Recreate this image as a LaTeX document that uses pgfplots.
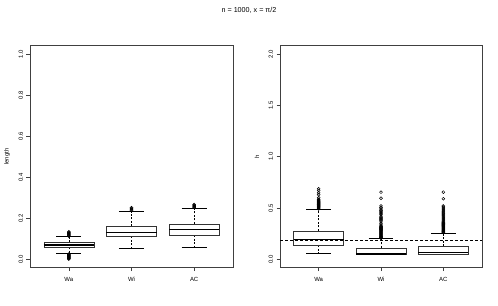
\documentclass[border=0pt]{standalone}
\usepackage{fontspec}
\setmainfont{Liberation Sans}
\usepackage{pgfplots}
\pgfplotsset{compat=1.18}
\usepgfplotslibrary{statistics}
\pgfplotsset{
  rbox/.style={
    scale only axis, width=203bp, height=221.7bp,
    xmin=0.38, xmax=3.62,
    xtick={1,2,3}, xticklabels={Wa,Wi,AC},
    tick align=outside, major tick length=3.5bp,
    tick pos=left,
    axis line style={line width=0.6bp, black!75},
    every tick/.style={black!75, line width=0.5bp},
    ticklabel style={font=\fontsize{6}{7}\selectfont},
    yticklabel style={rotate=90, anchor=south},
    xticklabel shift=3bp,
    every axis y label/.style={at={(axis description cs:0,0.5)}, xshift=-23bp, rotate=90, anchor=center, font=\fontsize{6}{7}\selectfont},
    boxplot/draw direction=y,
    /pgf/number format/.cd, fixed, fixed zerofill, precision=1, assume math mode=true,
  },
  rbp/.style={
    black, line width=0.5bp,
    mark=o, mark size=1.45bp, mark options={line width=0.5bp, solid},
    boxplot/box extend=0.8,
    boxplot/every box/.style={draw=black!80, fill=white, line width=0.55bp},
    boxplot/every median/.style={line width=1.3bp, black},
    boxplot/draw/lower whisker/.code={%
      \draw[dash pattern=on 2bp off 1.5bp, line width=0.5bp] (boxplot box cs:\pgfplotsboxplotvalue{lower quartile},0.5) -- (boxplot box cs:\pgfplotsboxplotvalue{lower whisker},0.5);
      \draw[line width=0.55bp] (boxplot box cs:\pgfplotsboxplotvalue{lower whisker},0.25) -- (boxplot box cs:\pgfplotsboxplotvalue{lower whisker},0.75);
    },
    boxplot/draw/upper whisker/.code={%
      \draw[dash pattern=on 2bp off 1.5bp, line width=0.5bp] (boxplot box cs:\pgfplotsboxplotvalue{upper quartile},0.5) -- (boxplot box cs:\pgfplotsboxplotvalue{upper whisker},0.5);
      \draw[line width=0.55bp] (boxplot box cs:\pgfplotsboxplotvalue{upper whisker},0.25) -- (boxplot box cs:\pgfplotsboxplotvalue{upper whisker},0.75);
    },
  },
}
\begin{document}
\begin{tikzpicture}
\path[use as bounding box] (0bp,0bp) rectangle (498bp,306bp);
\node[font=\fontsize{7.2}{8}\selectfont] at (249bp,296bp) {n = 1000, x = π/2};

\begin{axis}[rbox, at={(30bp,38.5bp)}, anchor=south west,
  ymin=-0.04, ymax=1.04, ytick={0,0.2,0.4,0.6,0.8,1.0}, ylabel={length}]
\addplot[rbp, boxplot prepared={draw position=1, lower whisker=0.028, lower quartile=0.058, median=0.069, upper quartile=0.082, upper whisker=0.110}]
  coordinates {(0,0.001) (0,0.003) (0,0.005) (0,0.007) (0,0.009) (0,0.011) (0,0.013) (0,0.015) (0,0.017) (0,0.019) (0,0.021) (0,0.023) (0,0.025)
  (0,0.113) (0,0.116) (0,0.119) (0,0.122) (0,0.125) (0,0.128) (0,0.131) (0,0.134)};
\addplot[rbp, boxplot prepared={draw position=2, lower whisker=0.053, lower quartile=0.112, median=0.131, upper quartile=0.162, upper whisker=0.232}]
  coordinates {(0,0.239) (0,0.243) (0,0.247) (0,0.251)};
\addplot[rbp, boxplot prepared={draw position=3, lower whisker=0.058, lower quartile=0.118, median=0.146, upper quartile=0.172, upper whisker=0.247}]
  coordinates {(0,0.252) (0,0.255) (0,0.258) (0,0.261) (0,0.264) (0,0.267)};
\end{axis}

\begin{axis}[rbox, at={(280bp,38.5bp)}, anchor=south west, width=202bp,
  ymin=-0.08, ymax=2.08, ytick={0,0.5,1.0,1.5,2.0}, ylabel={h}]
\addplot[rbp, boxplot prepared={draw position=1, lower whisker=0.056, lower quartile=0.135, median=0.194, upper quartile=0.276, upper whisker=0.486}]
  coordinates {(0,0.490) (0,0.495) (0,0.500) (0,0.505) (0,0.510) (0,0.515) (0,0.520) (0,0.525) (0,0.530) (0,0.535) (0,0.540) (0,0.545) (0,0.550) (0,0.555) (0,0.560) (0,0.565) (0,0.570) (0,0.575) (0,0.580) (0,0.585)
  (0,0.600) (0,0.630) (0,0.648) (0,0.671) (0,0.687)};
\addplot[rbp, boxplot prepared={draw position=2, lower whisker=0.045, lower quartile=0.047, median=0.052, upper quartile=0.111, upper whisker=0.200}]
  coordinates {(0,0.205) (0,0.210) (0,0.215) (0,0.220) (0,0.225) (0,0.230) (0,0.235) (0,0.240) (0,0.245) (0,0.250) (0,0.255) (0,0.260) (0,0.265) (0,0.270) (0,0.275) (0,0.280) (0,0.285) (0,0.290) (0,0.295) (0,0.300) (0,0.305) (0,0.310) (0,0.315) (0,0.320) (0,0.325)
  (0,0.335) (0,0.350) (0,0.365) (0,0.380) (0,0.390) (0,0.400) (0,0.410) (0,0.420) (0,0.435) (0,0.445) (0,0.455) (0,0.465) (0,0.475) (0,0.490) (0,0.505) (0,0.520) (0,0.595) (0,0.654)};
\addplot[rbp, boxplot prepared={draw position=3, lower whisker=0.045, lower quartile=0.047, median=0.069, upper quartile=0.128, upper whisker=0.253}]
  coordinates {(0,0.260) (0,0.265) (0,0.270) (0,0.275) (0,0.280) (0,0.285) (0,0.290) (0,0.295) (0,0.300) (0,0.305) (0,0.310) (0,0.315) (0,0.320) (0,0.325) (0,0.330) (0,0.335) (0,0.340) (0,0.345) (0,0.350) (0,0.355) (0,0.360)
  (0,0.370) (0,0.380) (0,0.390) (0,0.400) (0,0.410) (0,0.420) (0,0.430) (0,0.440) (0,0.450) (0,0.460) (0,0.470) (0,0.480) (0,0.490) (0,0.500) (0,0.510) (0,0.520) (0,0.590) (0,0.654)};
\addplot[black, line width=0.9bp, dash pattern=on 3bp off 2bp, mark=none] coordinates {(0.38,0.187) (3.62,0.187)};
\end{axis}
\end{tikzpicture}
\end{document}
